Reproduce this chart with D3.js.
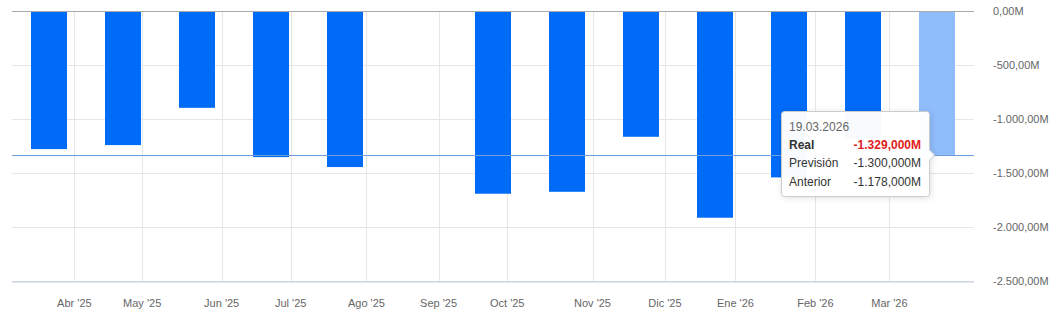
<!DOCTYPE html>
<html><head><meta charset="utf-8">
<script src="https://cdn.jsdelivr.net/npm/d3@7"></script>
<style>
html,body{margin:0;padding:0;background:#fff;}
svg{display:block;font-family:"Liberation Sans",Arial,sans-serif;}
</style></head>
<body>
<svg id="c" width="1062" height="318"></svg>
<script>
// ---- data ----
const releaseDates = ["2025-03-20","2025-04-24","2025-05-21","2025-06-23","2025-07-23","2025-08-23",
  "2025-09-26","2025-10-22","2025-11-20","2025-12-24","2026-01-22","2026-02-19","2026-03-19"];
const values = [-1275, -1238, -893, -1349, -1441, null, -1688, -1670, -1161, -1910, -1537, -1178, -1329];
const yTicks = [0, -500, -1000, -1500, -2000, -2500];
const monthTicks = ["2025-04-01","2025-05-01","2025-06-01","2025-07-01","2025-08-01","2025-09-01",
  "2025-10-01","2025-11-01","2025-12-01","2026-01-01","2026-02-01","2026-03-01"];
const monthNames = ["Ene","Feb","Mar","Abr","May","Jun","Jul","Ago","Sep","Oct","Nov","Dic"];
const tipDate = "19.03.2026";
const tipLabels = ["Real","Previsión","Anterior"];
const tipValues = [-1329, -1300, -1178];

(function(){
// ---- layout ----
const svg = d3.select("#c");
const pLeft = 12, pRight = 974, pTop = 11.3, pBottom = 281.5;
const parse = d3.utcParse("%Y-%m-%d");
const dates = releaseDates.map(parse);

const band = d3.scaleBand().domain(d3.range(values.length)).range([pLeft, pRight])
  .paddingInner(0.5135).paddingOuter(0.5135/2);
const centers = d3.range(values.length).map(i => band(i) + band.bandwidth()/2);
const xTime = d3.scaleUtc().domain(dates).range(centers);
const y = d3.scaleLinear().domain([-2500, 0]).range([pBottom, pTop]);

const loc = d3.formatLocale({decimal:",", thousands:".", grouping:[3], currency:["",""], minus:"-"});
const f2 = loc.format(",.2f"), f3 = loc.format(",.3f");

// grid
const tickDates = monthTicks.map(parse);
svg.append("g").selectAll("line").data(yTicks.filter(d => d !== 0)).join("line")
  .attr("x1", pLeft).attr("x2", pRight).attr("y1", d => Math.round(y(d)) + 0.5).attr("y2", d => Math.round(y(d)) + 0.5)
  .attr("stroke", "#e6e6e6");
svg.append("g").selectAll("line").data(tickDates).join("line")
  .attr("x1", d => Math.round(xTime(d)) + 0.5).attr("x2", d => Math.round(xTime(d)) + 0.5)
  .attr("y1", pTop).attr("y2", pBottom).attr("stroke", "#e6e6e6");

// bars
const last = values.length - 1;
svg.append("g").selectAll("rect").data(values.map((v,i)=>({v,i})).filter(d => d.v !== null)).join("rect")
  .attr("x", d => band(d.i)).attr("width", band.bandwidth())
  .attr("y", y(0)).attr("height", d => y(d.v) - y(0))
  .attr("fill", d => d.i === last ? "#8fbcfb" : "#006bf7");

// zero line & axis line
svg.append("line").attr("x1", pLeft).attr("x2", pRight).attr("y1", Math.round(y(0)) + 0.5).attr("y2", Math.round(y(0)) + 0.5)
  .attr("stroke", "#aaaaaa");
svg.append("line").attr("x1", pLeft).attr("x2", pRight).attr("y1", 281.5).attr("y2", 281.5).attr("stroke", "#ccd6eb");

// crosshair at hovered value
svg.append("line").attr("x1", pLeft).attr("x2", pRight)
  .attr("y1", Math.round(y(values[last])) + 0.5).attr("y2", Math.round(y(values[last])) + 0.5)
  .attr("stroke", "#6d9fe0");

// y labels
svg.append("g").selectAll("text").data(yTicks).join("text")
  .attr("x", 993).attr("y", d => y(d)).attr("dy", "0.35em")
  .attr("font-size", 11).attr("fill", "#666").text(d => f2(d) + "M");

// x labels
svg.append("g").selectAll("text").data(tickDates).join("text")
  .attr("x", d => xTime(d)).attr("y", 307).attr("text-anchor", "middle")
  .attr("font-size", 11).attr("fill", "#666")
  .text(d => monthNames[d.getUTCMonth()] + " '" + String(d.getUTCFullYear()).slice(2));

// tooltip
const defs = svg.append("defs");
const flt = defs.append("filter").attr("id","sh").attr("x","-30%").attr("y","-30%").attr("width","160%").attr("height","160%");
flt.append("feDropShadow").attr("dx",1).attr("dy",1).attr("stdDeviation",3).attr("flood-color","#000").attr("flood-opacity",0.12);

const tx = 781.5, ty = 111.5, tw = 148, th = 85;
const ay = y(values[last]);
const path = `M${tx+3},${ty} H${tx+tw-3} Q${tx+tw},${ty} ${tx+tw},${ty+3} V${ay-5} L${tx+tw+5},${ay} L${tx+tw},${ay+5} V${ty+th-3} Q${tx+tw},${ty+th} ${tx+tw-3},${ty+th} H${tx+3} Q${tx},${ty+th} ${tx},${ty+th-3} V${ty+3} Q${tx},${ty} ${tx+3},${ty} Z`;
svg.append("path").attr("d", path).attr("fill", "rgba(255,255,255,0.97)").attr("stroke", "#cccccc").attr("stroke-width", 1)
  .attr("filter", "url(#sh)");
svg.append("text").attr("x", 789).attr("y", 130.5).attr("font-size", 12).attr("fill", "#666").text(tipDate);
const rowsY = [148.5, 167, 185.5];
tipLabels.forEach((lab, i) => {
  svg.append("text").attr("x", 789).attr("y", rowsY[i]).attr("font-size", 12)
    .attr("font-weight", i === 0 ? "bold" : "normal").attr("fill", "#333").text(lab);
  svg.append("text").attr("x", 921).attr("y", rowsY[i]).attr("font-size", 12).attr("text-anchor", "end")
    .attr("font-weight", i === 0 ? "bold" : "normal").attr("fill", i === 0 ? "#e0201c" : "#333")
    .text(f3(tipValues[i]) + "M");
});
})();
</script>
</body></html>
